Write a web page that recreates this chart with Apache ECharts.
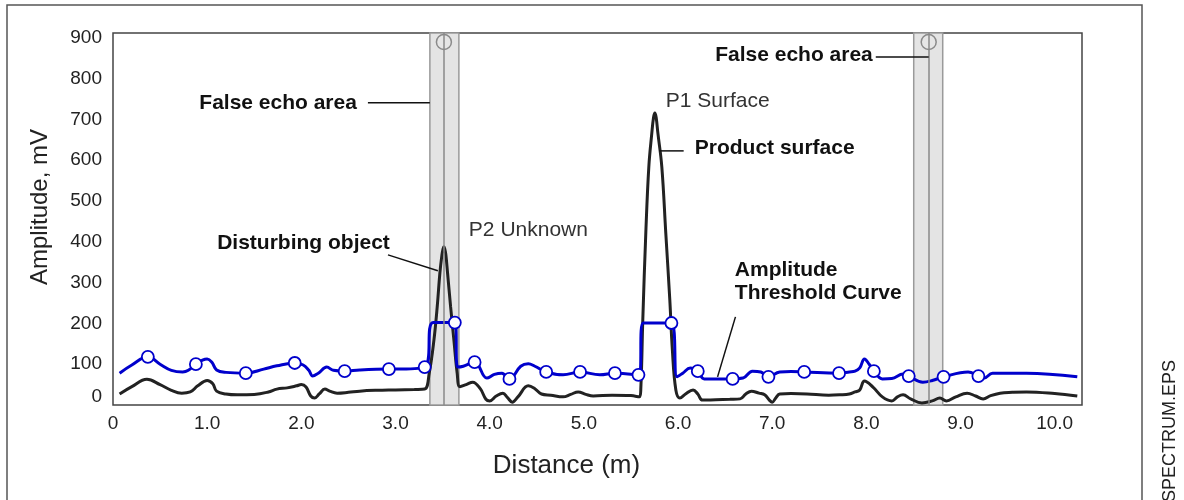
<!DOCTYPE html>
<html>
<head>
<meta charset="utf-8">
<script src="https://cdn.jsdelivr.net/npm/echarts@6/dist/echarts.min.js"></script>
<style>
  html, body { margin: 0; padding: 0; background: #fff; }
  #chart { width: 1184px; height: 500px; }
</style>
</head>
<body>
<div id="chart"></div>
<script>
// Echo amplitude along the distance (m, mV)
const echoCurve = [
  [0.07,27],[0.2,45],[0.36,63],[0.5,50],[0.62,36],[0.73,29],[0.82,32],[0.9,47],[1.0,60],[1.06,52],
  [1.1,34],[1.2,27],[1.32,25],[1.5,26],[1.65,32],[1.74,39],[1.85,42],[1.95,47],[2.0,50],[2.05,44],
  [2.1,22],[2.14,17],[2.19,27],[2.25,39],[2.3,34],[2.38,29],[2.5,31],[2.62,34],[2.8,36],[3.0,37],
  [3.2,38],[3.31,39],[3.358,78],[3.408,159],[3.443,241],[3.471,323],[3.493,368],[3.505,383],[3.514,388],
  [3.523,383],[3.535,368],[3.553,323],[3.585,241],[3.62,159],[3.655,78],[3.684,45],[3.75,50],[3.82,56],
  [3.9,40],[3.96,14],[4.0,10],[4.07,22],[4.14,29],[4.19,18],[4.24,7],[4.3,20],[4.41,47],[4.48,40],
  [4.55,27],[4.65,24],[4.78,20],[4.86,26],[4.94,32],[5.02,26],[5.1,22],[5.3,24],[5.5,23],[5.59,20],
  [5.605,40],[5.626,208],[5.658,422],[5.69,584],[5.722,667],[5.74,705],[5.754,716],[5.768,705],
  [5.786,667],[5.828,584],[5.87,422],[5.913,257],[5.94,135],[5.977,37],[6.02,17],[6.08,27],[6.16,37],
  [6.21,27],[6.26,12],[6.4,13],[6.55,14],[6.66,15],[6.72,27],[6.78,34],[6.86,29],[6.92,25],[6.97,12],
  [7.0,7],[7.04,18],[7.08,27],[7.2,28],[7.37,27],[7.6,24],[7.72,25],[7.82,27],[7.88,32],[7.93,37],
  [7.98,59],[8.07,44],[8.17,20],[8.27,10],[8.33,20],[8.39,25],[8.47,15],[8.59,5],[8.7,10],[8.78,17],
  [8.85,10],[8.95,20],[9.07,29],[9.16,22],[9.24,15],[9.32,23],[9.42,29],[9.55,31],[9.7,32],[10.0,28],
  [10.24,22]
];

// Amplitude threshold curve between its control points
const thresholdShape = [
  [0.07,78],[0.2,98],[0.5,100],[0.62,85],[0.74,81],[0.8,85],[0.95,110],[1.0,113],[1.05,105],[1.1,86],
  [1.2,80],[1.6,88],[1.74,96],[2.02,98],[2.08,85],[2.12,71],[2.18,78],[2.27,93],[2.34,85],[2.62,86],
  [3.0,88],[3.4,202],[3.66,93],[3.72,95],[3.97,66],[4.05,75],[4.13,78],[4.33,95],[4.41,101],[4.48,95],
  [4.78,74],[5.17,74],[5.63,201],[5.99,69],[6.05,78],[6.13,91],[6.28,64],[6.69,66],[6.79,83],[6.88,81],
  [7.08,81],[7.2,82],[7.82,81],[7.88,83],[7.93,91],[7.98,113],[8.03,100],[8.17,64],[8.27,65],[8.39,76],
  [8.6,56],[8.7,60],[9.08,81],[9.25,66],[9.34,78],[9.7,78],[10.24,69]
];

// Control points of the threshold curve
const thresholdPoints = [
  [0.37,118],[0.88,100],[1.41,78],[1.93,103],[2.46,83],[2.93,88],[3.31,93],[3.63,202],[3.84,105],
  [4.21,64],[4.6,81],[4.96,81],[5.33,78],[5.58,74],[5.93,201],[6.21,83],[6.58,64],[6.96,69],[7.34,81],
  [7.71,78],[8.08,83],[8.45,71],[8.82,69],[9.19,71]
];

// False echo areas (m) and their centre lines
const falseEchoAreas = [[3.365, 3.673], [8.503, 8.811]];
const falseEchoCentres = [3.514, 8.662];
const falseEchoMarkerLevel = 890;

// Callout texts, anchored in data units
const notes = [
  { text: 'False echo area', at: [2.59, 741], align: 'right', bold: true },
  { text: 'False echo area', at: [8.068, 858], align: 'right', bold: true },
  { text: 'P1 Surface', at: [5.87, 745], align: 'left', bold: false },
  { text: 'Product surface', at: [6.178, 630], align: 'left', bold: true },
  { text: 'P2 Unknown', at: [3.779, 429], align: 'left', bold: false },
  { text: 'Disturbing object', at: [2.94, 397], align: 'right', bold: true },
  { text: 'Amplitude\nThreshold Curve', at: [6.603, 302], align: 'left', bold: true }
];

// Callout leader lines
const leaders = [
  [[2.707, 741], [3.365, 741]],
  [[8.1, 853], [8.662, 853]],
  [[5.80, 623], [6.06, 623]],
  [[2.92, 368], [3.45, 329]],
  [[6.61, 216], [6.42, 69]]
];

const FONT = '"Liberation Sans", Arial, Helvetica, sans-serif';
const thresholdCurve = thresholdShape.concat(thresholdPoints).sort((a, b) => a[0] - b[0]);

const chart = echarts.init(document.getElementById('chart'), null, { renderer: 'canvas' });

chart.setOption({
  animation: false,
  textStyle: { fontFamily: FONT },
  grid: {
    left: 113, right: 102, top: 33, bottom: 95,
    show: true, borderColor: '#444', borderWidth: 1.5, backgroundColor: 'transparent'
  },
  xAxis: {
    type: 'value', min: 0, max: 10.29, interval: 1,
    axisLine: { show: false }, axisTick: { show: false }, splitLine: { show: false },
    axisLabel: {
      showMaxLabel: false, color: '#222', fontSize: 19, margin: 9, fontFamily: FONT,
      formatter: v => (v === 0 ? '0' : v.toFixed(1))
    },
    name: 'Distance (m)', nameLocation: 'middle', nameGap: 48,
    nameTextStyle: { fontSize: 26, color: '#222', fontFamily: FONT, padding: [0, 62, 0, 0] }
  },
  yAxis: {
    type: 'value', min: 0, max: 912, interval: 100,
    axisLine: { show: false }, axisTick: { show: false }, splitLine: { show: false },
    axisLabel: {
      showMaxLabel: false, color: '#222', fontSize: 19, margin: 11, fontFamily: FONT,
      formatter: v => (v === 0 ? '{z|0}' : String(v)),
      rich: { z: { fontSize: 19, color: '#222', fontFamily: FONT, padding: [0, 0, 16, 0] } }
    },
    name: 'Amplitude, mV', nameLocation: 'middle', nameRotate: 90, nameGap: 61,
    nameTextStyle: { fontSize: 24, color: '#222', fontFamily: FONT, padding: [0, 0, 0, 24] }
  },
  series: [
    {
      type: 'line', name: 'False echo area', data: [], z: 1, silent: true,
      markArea: {
        silent: true,
        itemStyle: { color: '#e4e4e4', borderColor: '#9a9a9a', borderWidth: 1.5, opacity: 1 },
        data: falseEchoAreas.map(([a, b]) => [{ xAxis: a }, { xAxis: b }])
      },
      markLine: {
        silent: true, symbol: 'none', label: { show: false },
        lineStyle: { color: '#8a8a8a', width: 1.5, type: 'solid', opacity: 1 },
        data: falseEchoCentres.map(x => ({ xAxis: x }))
      }
    },
    {
      type: 'scatter', name: 'False echo marker', z: 2, silent: true,
      data: falseEchoCentres.map(x => [x, falseEchoMarkerLevel]),
      symbol: 'circle', symbolSize: 15,
      itemStyle: { color: '#e6e6e6', borderColor: '#8a8a8a', borderWidth: 1.5, opacity: 1 }
    },
    {
      type: 'line', name: 'Echo curve', data: echoCurve, z: 3,
      smooth: 0.4, showSymbol: false,
      lineStyle: { color: '#222', width: 3 }
    },
    {
      type: 'line', name: 'Amplitude threshold curve', data: thresholdCurve, z: 4,
      smooth: 0.4, showSymbol: false,
      lineStyle: { color: '#0000cc', width: 3 }
    },
    {
      type: 'scatter', name: 'Threshold points', data: thresholdPoints, z: 5,
      symbol: 'circle', symbolSize: 12,
      itemStyle: { color: '#ffffff', borderColor: '#0000cc', borderWidth: 1.8, opacity: 1 }
    }
  ]
});

// Callouts, frame and file tag, placed through the grid's own scales
const toPx = p => chart.convertToPixel({ gridIndex: 0 }, p);
const graphics = [];

graphics.push({
  type: 'rect', silent: true, z: -10,
  shape: { x: 7, y: 5, width: 1135, height: 540 },
  style: { fill: 'none', stroke: '#555', lineWidth: 1.5 }
});

leaders.forEach(([a, b]) => {
  const p1 = toPx(a), p2 = toPx(b);
  graphics.push({
    type: 'line', silent: true, z: 20,
    shape: { x1: p1[0], y1: p1[1], x2: p2[0], y2: p2[1] },
    style: { stroke: '#111', lineWidth: 1.5 }
  });
});

notes.forEach(n => {
  const p = toPx(n.at);
  graphics.push({
    type: 'text', silent: true, z: 20, x: p[0], y: p[1],
    style: {
      text: n.text,
      font: (n.bold ? 'bold ' : '') + '21px ' + FONT,
      fill: n.bold ? '#111' : '#333',
      align: n.align, verticalAlign: 'middle', lineHeight: 23
    }
  });
});

graphics.push({
  type: 'text', silent: true, x: 1170, y: 502, rotation: Math.PI / 2,
  style: { text: 'SPECTRUM.EPS', font: '18px ' + FONT, fill: '#222', align: 'left', verticalAlign: 'middle' }
});

chart.setOption({ graphic: graphics });
</script>
</body>
</html>
